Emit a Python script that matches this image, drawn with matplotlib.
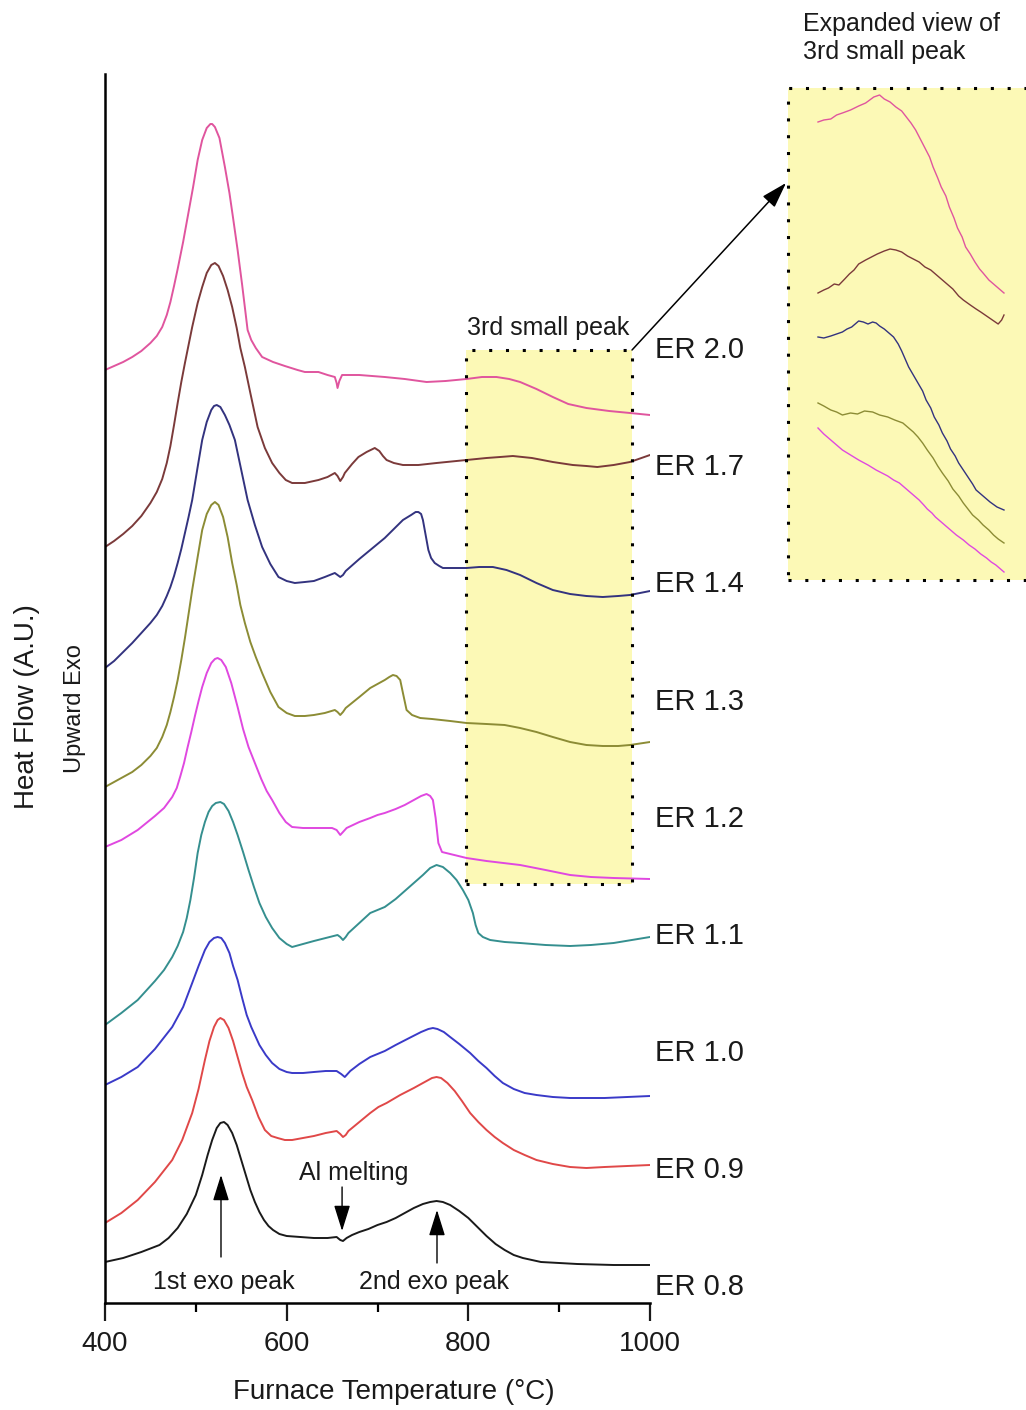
import matplotlib
matplotlib.use("Agg")
import matplotlib.pyplot as plt
from matplotlib.patches import Rectangle

plt.rcParams["font.family"] = ["Liberation Sans", "DejaVu Sans"]

# DSC traces, stacked (heat flow in arbitrary units, already offset per ER)
t08 = [400, 420, 440, 460, 470, 480, 490, 500, 507, 513, 518, 523, 527, 531, 535, 540, 545, 550,
       555, 560, 565, 570, 575, 580, 585, 592, 600, 615, 630, 645, 655, 659, 662, 666, 672, 680,
       690, 700, 710, 720, 730, 740, 750, 758, 765, 772, 780, 790, 800, 810, 820, 830, 840, 850,
       860, 870, 880, 900, 920, 960, 1000]
h08 = [41, 45, 51, 58, 65, 75, 89, 108, 128, 148, 163, 175, 180, 181, 178, 170, 158, 143,
       128, 113, 101, 91, 83, 77, 73, 69, 67, 66, 65, 65, 66, 63, 62, 65, 68, 71,
       74, 78, 81, 85, 90, 95, 99, 101, 102, 101, 98, 92, 85, 76, 67, 59, 53, 48,
       45, 43, 41, 40, 39, 38, 38]

t09 = [400, 418, 436, 455, 474, 485, 496, 503, 510, 515, 520, 524, 527, 531, 536, 541, 546, 551,
       556, 562, 569, 576, 583, 590, 598, 606, 618, 630, 643, 655, 659, 662, 665, 668, 680, 692,
       701, 710, 725, 740, 752, 760, 765, 770, 777, 785, 793, 802, 811, 820, 829, 838, 850, 862,
       875, 893, 912, 930, 950, 975, 1000]
h09 = [80, 90, 103, 121, 143, 163, 190, 214, 243, 262, 276, 283, 285, 283, 275, 262, 246, 230,
       216, 203, 186, 173, 167, 165, 163, 163, 165, 167, 170, 172, 169, 166, 168, 172, 181, 190,
       196, 200, 208, 215, 221, 225, 226, 225, 220, 212, 202, 190, 181, 173, 166, 160, 153, 148,
       143, 139, 136, 135, 136, 137, 138]

t10 = [400, 418, 436, 455, 474, 486, 496, 503, 510, 515, 520, 524, 528, 532, 537, 541, 546, 551,
       556, 561, 565, 570, 577, 584, 592, 600, 606, 618, 630, 643, 655, 660, 664, 667, 670, 680,
       692, 700, 708, 720, 735, 748, 756, 761, 766, 773, 780, 790, 802, 811, 820, 829, 838, 850,
       862, 875, 893, 912, 950, 1000]
h10 = [218, 226, 236, 254, 276, 296, 320, 337, 353, 361, 365, 366, 365, 360, 350, 337, 323, 305,
       288, 276, 268, 258, 248, 240, 234, 231, 230, 230, 231, 232, 232, 229, 226, 229, 232, 239,
       246, 249, 252, 258, 265, 271, 274, 275, 274, 271, 266, 259, 250, 242, 235, 227, 220, 214,
       210, 208, 206, 205, 205, 207]

t11 = [400, 418, 436, 455, 465, 474, 480, 486, 490, 494, 498, 502, 506, 510, 514, 518, 522, 527,
       531, 536, 541, 546, 552, 558, 564, 570, 577, 584, 592, 600, 606, 618, 630, 643, 656, 659,
       662, 665, 668, 680, 692, 700, 708, 720, 730, 740, 750, 758, 765, 772, 780, 787, 794, 800,
       805, 808, 811, 816, 824, 840, 857, 885, 912, 935, 960, 980, 1000]
h11 = [278, 290, 303, 322, 333, 346, 357, 371, 385, 403, 425, 450, 468, 481, 491, 497, 500, 501,
       499, 492, 481, 468, 451, 433, 416, 400, 386, 375, 365, 359, 356, 359, 362, 365, 368, 366,
       363, 366, 370, 380, 390, 393, 396, 404, 412, 420, 428, 435, 438, 436, 430, 423, 413, 403,
       390, 378, 370, 366, 363, 361, 360, 358, 357, 358, 360, 363, 366]

t12 = [400, 418, 436, 455, 465, 474, 479, 483, 487, 491, 495, 499, 503, 507, 512, 517, 521, 524,
       528, 533, 539, 546, 552, 558, 565, 572, 578, 584, 592, 599, 606, 618, 630, 640, 650, 655,
       659, 662, 666, 680, 692, 700, 708, 720, 730, 740, 748, 754, 758, 761, 764, 767, 771, 780,
       798, 820, 857, 885, 912, 935, 960, 1000]
h12 = [456, 463, 473, 487, 495, 506, 515, 527, 540, 556, 571, 587, 602, 616, 630, 640, 644, 645,
       643, 636, 620, 596, 574, 556, 540, 524, 512, 503, 490, 481, 476, 475, 475, 475, 475, 473,
       468, 471, 475, 481, 485, 488, 490, 494, 498, 503, 507, 509, 507, 503, 485, 460, 451, 449,
       445, 442, 438, 433, 428, 426, 425, 424]

t13 = [400, 410, 420, 430, 440, 450, 457, 463, 468, 472, 476, 480, 484, 488, 492, 496, 502, 507,
       512, 517, 521, 525, 530, 535, 540, 545, 549, 554, 560, 566, 573, 582, 591, 600, 609, 620,
       630, 642, 653, 656, 659, 662, 665, 680, 692, 700, 708, 713, 717, 721, 725, 728, 732, 738,
       747, 760, 780, 798, 820, 840, 857, 875, 893, 912, 930, 948, 965, 978, 1000]
h13 = [516, 521, 526, 531, 538, 547, 555, 566, 578, 591, 606, 623, 643, 665, 689, 713, 746, 773,
       789, 798, 801, 798, 786, 766, 740, 718, 698, 680, 661, 646, 630, 611, 596, 590, 587, 587,
       588, 590, 593, 591, 588, 591, 595, 606, 615, 619, 623, 626, 628, 627, 623, 610, 593, 588,
       585, 584, 582, 580, 579, 578, 575, 571, 566, 561, 558, 557, 557, 558, 561]

t14 = [400, 410, 420, 430, 440, 450, 457, 463, 468, 472, 476, 480, 484, 488, 492, 496, 502, 507,
       512, 517, 520, 523, 527, 532, 537, 543, 550, 557, 565, 573, 582, 591, 600, 609, 620, 630,
       642, 653, 656, 659, 662, 665, 680, 692, 700, 708, 718, 728, 737, 742, 745, 748, 750, 753,
       756, 759, 763, 768, 772, 785, 798, 812, 827, 842, 857, 875, 893, 912, 930, 948, 965, 978,
       1000]
h14 = [635, 642, 651, 660, 670, 680, 688, 697, 707, 716, 727, 740, 754, 770, 786, 803, 836, 863,
       881, 893, 897, 898, 896, 888, 878, 863, 833, 803, 778, 756, 739, 726, 722, 720, 721, 722,
       726, 730, 728, 726, 728, 732, 744, 753, 759, 765, 774, 783, 788, 791, 791, 789, 783, 768,
       753, 745, 740, 737, 735, 735, 735, 736, 736, 733, 728, 720, 713, 709, 707, 706, 707, 708,
       712]

t17 = [400, 410, 420, 430, 440, 450, 457, 463, 468, 472, 476, 480, 484, 488, 492, 496, 502, 507,
       512, 517, 521, 525, 530, 535, 540, 545, 549, 554, 560, 568, 576, 584, 592, 599, 606, 620,
       635, 645, 653, 656, 659, 662, 664, 672, 679, 688, 697, 702, 706, 710, 718, 728, 745, 765,
       798, 820, 835, 849, 870, 893, 915, 930, 942, 960, 978, 1000]
h17 = [756, 762, 769, 777, 787, 800, 811, 824, 840, 857, 878, 900, 921, 940, 958, 976, 1000, 1016,
       1030, 1038, 1040, 1037, 1027, 1013, 996, 975, 955, 936, 910, 876, 855, 840, 830, 823, 820, 820,
       823, 826, 830, 827, 822, 826, 830, 839, 846, 851, 855, 852, 847, 843, 840, 838, 838, 840,
       843, 845, 846, 847, 845, 841, 838, 837, 836, 838, 841, 848]

t20 = [400, 410, 420, 430, 440, 450, 457, 463, 468, 472, 476, 480, 486, 491, 497, 502, 507, 512,
       516, 518, 521, 526, 532, 537, 541, 546, 551, 555, 557, 561, 566, 573, 585, 598, 612, 620,
       627, 635, 645, 653, 655, 656, 658, 661, 680, 708, 730, 754, 775, 798, 815, 831, 845, 857,
       875, 893, 910, 930, 955, 978, 1000]
h20 = [933, 937, 941, 946, 952, 960, 967, 976, 988, 1001, 1017, 1034, 1061, 1086, 1116, 1143, 1163, 1175,
       1179, 1179, 1176, 1165, 1136, 1110, 1085, 1053, 1018, 988, 973, 963, 955, 946, 941, 937, 933, 931,
       931, 931, 928, 926, 920, 915, 922, 928, 928, 926, 924, 921, 922, 924, 926, 926, 924, 921,
       914, 906, 899, 895, 892, 890, 888]

er_labels = ["ER 0.8", "ER 0.9", "ER 1.0", "ER 1.1", "ER 1.2", "ER 1.3", "ER 1.4", "ER 1.7", "ER 2.0"]
temps = [t08, t09, t10, t11, t12, t13, t14, t17, t20]
flows = [h08, h09, h10, h11, h12, h13, h14, h17, h20]
colors = ["#1a1a1a", "#e04848", "#3a3ac8", "#358f8f", "#e048e0",
          "#8c8c35", "#33337f", "#7b3a3a", "#e0559e"]

# expanded view of the 3rd small peak (ER 2.0, 1.7, 1.4, 1.3, 1.2)
zt20 = [815, 820, 826, 831, 836, 843, 850, 856, 863, 868, 872, 877, 882, 887, 891, 895, 899, 903,
        907, 911, 914, 918, 921, 925, 928, 932, 935, 939, 942, 946, 950, 954, 957, 962, 966, 970, 975]
zh20 = [458, 460, 461, 465, 467, 470, 474, 477, 483, 485, 481, 478, 473, 469, 463, 457, 450, 441,
        432, 423, 413, 402, 393, 384, 373, 362, 352, 343, 333, 326, 318, 311, 307, 300, 296, 292, 287]
zt17 = [815, 820, 824, 829, 833, 838, 842, 846, 850, 856, 861, 866, 872, 877, 882, 887, 892, 897,
        902, 907, 912, 917, 922, 927, 931, 936, 940, 946, 951, 955, 960, 965, 970, 973, 975]
zh17 = [287, 290, 292, 296, 295, 301, 306, 310, 316, 320, 323, 326, 329, 331, 330, 328, 324, 321,
        318, 313, 310, 305, 300, 295, 291, 284, 280, 275, 271, 268, 264, 260, 256, 260, 265]
zt14 = [815, 820, 826, 831, 836, 840, 844, 847, 850, 854, 858, 862, 865, 868, 872, 876, 880, 884,
        887, 890, 893, 897, 901, 905, 908, 912, 915, 919, 922, 926, 929, 933, 936, 940, 944, 948,
        951, 957, 963, 969, 975]
zh14 = [243, 242, 244, 246, 248, 251, 253, 256, 259, 258, 256, 258, 257, 254, 251, 247, 243, 236,
        229, 221, 213, 205, 197, 189, 180, 172, 163, 155, 147, 139, 131, 124, 117, 110, 103, 96,
        90, 84, 78, 73, 70]
zt13 = [815, 820, 826, 831, 836, 843, 849, 855, 862, 868, 875, 881, 888, 893, 897, 901, 905, 909,
        914, 918, 922, 927, 931, 936, 940, 944, 948, 953, 957, 962, 966, 970, 975]
zh13 = [177, 174, 170, 168, 165, 167, 166, 169, 168, 165, 163, 160, 157, 152, 148, 143, 137, 130,
        122, 114, 107, 99, 91, 84, 77, 71, 65, 60, 55, 50, 45, 41, 37]
zt12 = [815, 820, 826, 831, 836, 843, 850, 858, 865, 870, 875, 880, 885, 890, 894, 898, 902, 906,
        909, 913, 916, 922, 928, 934, 940, 945, 950, 955, 960, 964, 968, 972, 975]
zh12 = [152, 146, 140, 135, 130, 125, 120, 115, 110, 107, 104, 100, 97, 92, 88, 84, 80, 75,
        71, 67, 63, 57, 51, 45, 40, 35, 31, 26, 22, 18, 15, 11, 8]

zoom_temps = [zt20, zt17, zt14, zt13, zt12]
zoom_flows = [zh20, zh17, zh14, zh13, zh12]
zoom_colors = ["#e0559e", "#7b3a3a", "#33337f", "#8c8c35", "#e048e0"]

yellow = "#fcf9b6"
ink = "#1a1a1a"
dotted = (0, (1, 4.5))

fig = plt.figure(figsize=(10.26, 14.10), dpi=100)
ax = fig.add_axes([105 / 1026, 107 / 1410, 545 / 1026, 1229 / 1410])
ax.set_xlim(400, 1000)
ax.set_ylim(0, 1229)

# highlighted window around the 3rd small peak
ax.add_patch(Rectangle((797.4, 419), 182.8, 534, facecolor=yellow, edgecolor="none", zorder=0))
ax.add_patch(Rectangle((797.4, 419), 182.8, 534, fill=False, edgecolor="k", lw=2.2,
                       ls=dotted, zorder=3, clip_on=False))

for t, h, c in zip(temps, flows, colors):
    ax.plot(t, h, color=c, lw=1.4, zorder=2, solid_joinstyle="round")

for i, lab in enumerate(er_labels):
    ax.text(1005, 16 + i * 117.1, lab, fontsize=21, ha="left", va="center", color=ink, clip_on=False)

for side in ("top", "right"):
    ax.spines[side].set_visible(False)
for side in ("left", "bottom"):
    ax.spines[side].set_linewidth(1.8)
ax.set_yticks([])
ax.set_xticks([400, 600, 800, 1000])
ax.set_xticks([500, 700, 900], minor=True)
ax.tick_params(axis="x", which="major", length=13, width=1.6, labelsize=20, pad=7, colors=ink)
ax.tick_params(axis="x", which="minor", length=6.5, width=1.6)

head = dict(arrowstyle="-|>,head_length=0.8,head_width=0.25", color="k", lw=1, mutation_scale=20,
            shrinkA=0, shrinkB=0)
ax.annotate("", xy=(527.7, 128), xytext=(527.7, 46), arrowprops=head)
ax.annotate("", xy=(661, 72), xytext=(661, 116), arrowprops=head)
ax.annotate("", xy=(765.5, 93), xytext=(765.5, 40), arrowprops=head)
ax.text(531, 21, "1st exo peak", fontsize=18, ha="center", va="center", color=ink)
ax.text(762, 21, "2nd exo peak", fontsize=18, ha="center", va="center", color=ink)
ax.text(674, 130, "Al melting", fontsize=18, ha="center", va="center", color=ink)
ax.text(888, 975, "3rd small peak", fontsize=18, ha="center", va="center", color=ink)

fig.text(394 / 1026, 1 - 1392 / 1410, "Furnace Temperature (°C)", fontsize=20,
         ha="center", va="center", color=ink)
fig.text(27 / 1026, 1 - 707 / 1410, "Heat Flow (A.U.)", fontsize=20, rotation=90,
         ha="center", va="center", color=ink)
fig.text(75 / 1026, 1 - 709 / 1410, "Upward Exo", fontsize=17, rotation=90,
         ha="center", va="center", color=ink)

# inset panel with the expanded traces
axins = fig.add_axes([788 / 1026, 830 / 1410, 244 / 1026, 492 / 1410])
axins.set_xlim(789.2, 999.1)
axins.set_ylim(0, 492)
axins.set_facecolor(yellow)
for s in axins.spines.values():
    s.set_visible(False)
axins.set_xticks([])
axins.set_yticks([])
axins.add_patch(Rectangle((0, 0), 1, 1, transform=axins.transAxes, fill=False, edgecolor="k",
                          lw=2.2, ls=dotted, clip_on=False))
for t, h, c in zip(zoom_temps, zoom_flows, zoom_colors):
    axins.plot(t, h, color=c, lw=1.0)

ax.annotate("", xy=(-0.008, 0.807), xycoords=axins.transAxes, xytext=(980.2, 953), textcoords="data",
            arrowprops=dict(arrowstyle="-|>,head_length=0.8,head_width=0.25", color="k", lw=1.1,
                            mutation_scale=20, shrinkA=0, shrinkB=0),
            annotation_clip=False)

fig.text(803 / 1026, 1 - 12 / 1410, "Expanded view of\n3rd small peak", fontsize=18,
         ha="left", va="top", linespacing=1.2, color=ink)

fig.savefig("out.png", dpi=100)
